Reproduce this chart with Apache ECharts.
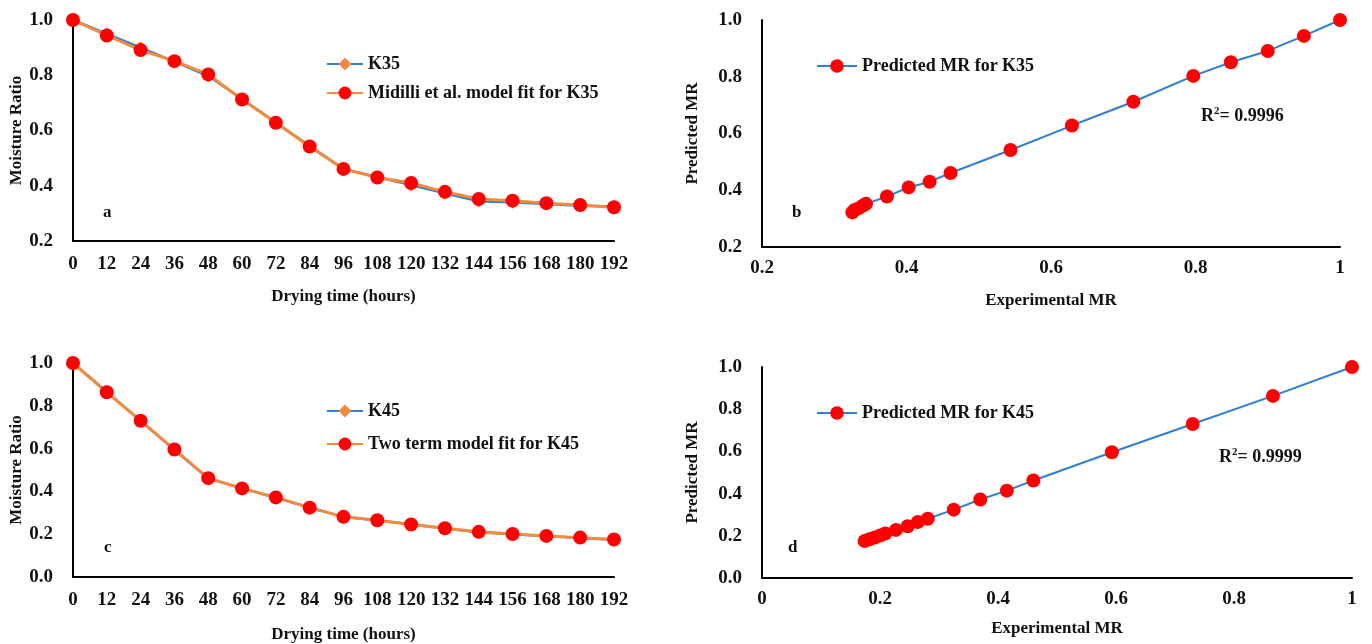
<!DOCTYPE html>
<html>
<head>
    <meta charset="UTF-8">
    <title>Moisture ratio</title>
    <script src="https://cdn.jsdelivr.net/npm/echarts@6/dist/echarts.min.js"></script>
</head>
<body style="margin:0;background:#fff;">
<div id="main" style="width:1372px;height:644px;"></div>
<script type="text/javascript">

    // drying time (hours)
    var hours = ['0', '12', '24', '36', '48', '60', '72', '84', '96', '108', '120', '132', '144', '156', '168', '180', '192'];

    // K35 experimental and Midilli et al. fit
    var k35Exp = [1.0, 0.950, 0.900, 0.849, 0.797, 0.714, 0.629, 0.544, 0.461, 0.432, 0.403, 0.373, 0.344, 0.340, 0.334, 0.328, 0.325];
    var k35Pred = [1.0, 0.944, 0.891, 0.851, 0.803, 0.712, 0.628, 0.542, 0.461, 0.430, 0.410, 0.378, 0.352, 0.346, 0.337, 0.330, 0.322];

    // K45 experimental and two term fit
    var k45Exp = [1.0, 0.866, 0.730, 0.593, 0.460, 0.415, 0.370, 0.325, 0.281, 0.264, 0.247, 0.227, 0.209, 0.200, 0.191, 0.182, 0.174];
    var k45Pred = [1.0, 0.863, 0.730, 0.596, 0.462, 0.414, 0.372, 0.324, 0.281, 0.265, 0.245, 0.228, 0.211, 0.201, 0.192, 0.184, 0.175];

    var r2K35 = '0.9996';
    var r2K45 = '0.9999';

    var BLUE = '#2f7fd3';
    var ORANGE = '#f58a3c';
    var RED = '#ff0000';
    var FONT = 'Liberation Serif';

    function pairs(xs, ys) {
        return xs.map(function (x, i) {
            return [x, ys[i]]
        });
    }

    function oneDec(v) {
        return v.toFixed(1);
    }

    function xr(v) {
        return v === 0 || v === 1 ? String(v) : v.toFixed(1);
    }

    var labelStyle = {color: '#111', fontFamily: FONT, fontWeight: 'bold', fontSize: 19};
    var nameStyle = {color: '#111', fontFamily: FONT, fontWeight: 'bold', fontSize: 17};
    var axisLine = {show: true, lineStyle: {color: '#000', width: 2}};

    function catAxis(grid, gap) {
        return {
            type: 'category', gridIndex: grid, data: hours, boundaryGap: false,
            axisLine: axisLine, axisTick: {show: false},
            axisLabel: Object.assign({margin: 14, interval: 0}, labelStyle),
            name: 'Drying time (hours)', nameLocation: 'middle', nameGap: gap,
            nameTextStyle: nameStyle
        }
    }

    function valAxis(grid, min, name, fmt, gap, isY) {
        return {
            type: 'value', gridIndex: grid, min: min, max: 1, interval: 0.2,
            axisLine: axisLine, axisTick: {show: false}, splitLine: {show: false},
            axisLabel: Object.assign({margin: isY ? 20 : 12, formatter: fmt}, labelStyle),
            name: name, nameLocation: 'middle', nameGap: gap,
            nameTextStyle: nameStyle
        };
    }

    var myChart = echarts.init(document.getElementById('main'));

    var legendText = {color: '#111', fontFamily: FONT, fontWeight: 'bold', fontSize: 18};
    var supRich = {s: {fontSize: 11, fontWeight: 'bold', fontFamily: FONT, verticalAlign: 'top', padding: [0, 0, 9, 0]}};

    myChart.setOption({
        backgroundColor: '#fff',
        animation: false,
        grid: [
            {left: 73, top: 20, width: 541, height: 221},
            {left: 762, top: 20, width: 578, height: 227},
            {left: 73, top: 363, width: 541, height: 214},
            {left: 762, top: 367, width: 590, height: 211}
        ],
        xAxis: [
            catAxis(0, 47),
            valAxis(1, 0.2, 'Experimental MR', xr, 45, false),
            catAxis(2, 49),
            valAxis(3, 0, 'Experimental MR', xr, 42, false)
        ],
        yAxis: [
            valAxis(0, 0.2, 'Moisture Ratio', oneDec, 45, true),
            valAxis(1, 0.2, 'Predicted MR', oneDec, 61, true),
            valAxis(2, 0, 'Moisture Ratio', oneDec, 47, true),
            valAxis(3, 0, 'Predicted MR', oneDec, 61, true)
        ],
        legend: [
            {
                data: ['K35', 'Midilli et al. model fit for K35'], orient: 'vertical',
                left: 321, top: 50, itemWidth: 36, itemHeight: 16, itemGap: 11, textStyle: legendText
            },
            {
                data: ['Predicted MR for K35'], left: 811, top: 52,
                itemWidth: 40, itemHeight: 17, textStyle: legendText
            },
            {
                data: ['K45', 'Two term model fit for K45'], orient: 'vertical',
                left: 321, top: 397, itemWidth: 36, itemHeight: 16, itemGap: 15, textStyle: legendText
            },
            {
                data: ['Predicted MR for K45'], left: 811, top: 399,
                itemWidth: 40, itemHeight: 17, textStyle: legendText
            }
        ],
        graphic: [
            {type: 'text', left: 103, top: 204, style: {text: 'a', font: 'bold 17px ' + FONT, fill: '#111'}},
            {type: 'text', left: 792, top: 204, style: {text: 'b', font: 'bold 17px ' + FONT, fill: '#111'}},
            {type: 'text', left: 104, top: 539, style: {text: 'c', font: 'bold 17px ' + FONT, fill: '#111'}},
            {type: 'text', left: 788, top: 539, style: {text: 'd', font: 'bold 17px ' + FONT, fill: '#111'}},
            {
                type: 'text', left: 1201, top: 106, style: {
                    text: 'R{s|2}= ' + r2K35, font: 'bold 18px ' + FONT, fill: '#111', rich: supRich
                }
            },
            {
                type: 'text', left: 1219, top: 447, style: {
                    text: 'R{s|2}= ' + r2K45, font: 'bold 18px ' + FONT, fill: '#111', rich: supRich
                }
            }
        ],
        series: [
            {
                name: 'K35', type: 'line', xAxisIndex: 0, yAxisIndex: 0, data: k35Exp,
                symbol: 'diamond', symbolSize: 13, showAllSymbol: true,
                lineStyle: {color: BLUE, width: 2.5}, itemStyle: {color: ORANGE}
            },
            {
                name: 'Midilli et al. model fit for K35', type: 'line', xAxisIndex: 0, yAxisIndex: 0, data: k35Pred,
                symbol: 'circle', symbolSize: 14, showAllSymbol: true,
                lineStyle: {color: ORANGE, width: 3}, itemStyle: {color: RED}
            },
            {
                name: 'Predicted MR for K35', type: 'line', xAxisIndex: 1, yAxisIndex: 1, data: pairs(k35Exp, k35Pred),
                symbol: 'circle', symbolSize: 14, showAllSymbol: true,
                lineStyle: {color: BLUE, width: 2}, itemStyle: {color: RED}
            },
            {
                name: 'K45', type: 'line', xAxisIndex: 2, yAxisIndex: 2, data: k45Exp,
                symbol: 'diamond', symbolSize: 13, showAllSymbol: true,
                lineStyle: {color: BLUE, width: 2.5}, itemStyle: {color: ORANGE}
            },
            {
                name: 'Two term model fit for K45', type: 'line', xAxisIndex: 2, yAxisIndex: 2, data: k45Pred,
                symbol: 'circle', symbolSize: 14, showAllSymbol: true,
                lineStyle: {color: ORANGE, width: 3}, itemStyle: {color: RED}
            },
            {
                name: 'Predicted MR for K45', type: 'line', xAxisIndex: 3, yAxisIndex: 3, data: pairs(k45Exp, k45Pred),
                symbol: 'circle', symbolSize: 14, showAllSymbol: true,
                lineStyle: {color: BLUE, width: 2}, itemStyle: {color: RED}
            }
        ]
    });
</script>
</body>
</html>
